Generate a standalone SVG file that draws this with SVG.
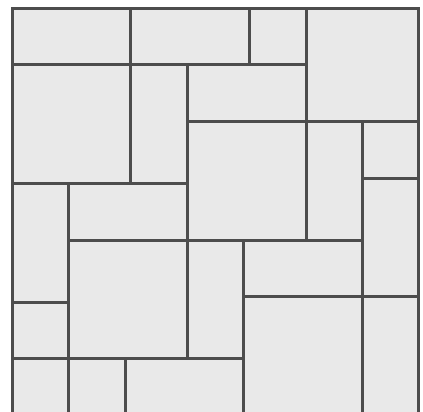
<svg xmlns="http://www.w3.org/2000/svg" width="423" height="412" viewBox="0 0 423 412">
<style>
.t{fill:#e9e9e9;stroke:#4d4d4d;stroke-width:3}
</style>
<rect width="423" height="412" fill="#ffffff"/>
<g id="tiles">
<rect id="r1" class="t" x="12.5" y="8.5" width="118" height="56"/>
<rect id="r2" class="t" x="130.5" y="8.5" width="119" height="56"/>
<rect id="r3" class="t" x="249.5" y="8.5" width="57" height="56"/>
<rect id="r4" class="t" x="306.5" y="8.5" width="112" height="113"/>
<rect id="r5" class="t" x="12.5" y="64.5" width="118" height="119"/>
<rect id="r6" class="t" x="130.5" y="64.5" width="57" height="119"/>
<rect id="r7" class="t" x="187.5" y="64.5" width="119" height="57"/>
<rect id="r8" class="t" x="187.5" y="121.5" width="119" height="119"/>
<rect id="r9" class="t" x="306.5" y="121.5" width="56" height="119"/>
<rect id="r10" class="t" x="362.5" y="121.5" width="56" height="57"/>
<rect id="r11" class="t" x="362.5" y="178.5" width="56" height="118"/>
<rect id="r12" class="t" x="12.5" y="183.5" width="56" height="119"/>
<rect id="r13" class="t" x="68.5" y="183.5" width="119" height="57"/>
<rect id="r14" class="t" x="68.5" y="240.5" width="119" height="118"/>
<rect id="r15" class="t" x="187.5" y="240.5" width="56" height="118"/>
<rect id="r16" class="t" x="243.5" y="240.5" width="119" height="56"/>
<rect id="r17" class="t" x="243.5" y="296.5" width="119" height="120"/>
<rect id="r18" class="t" x="362.5" y="296.5" width="56" height="120"/>
<rect id="r19" class="t" x="12.5" y="302.5" width="56" height="56"/>
<rect id="r20" class="t" x="12.5" y="358.5" width="56" height="58"/>
<rect id="r21" class="t" x="68.5" y="358.5" width="57" height="58"/>
<rect id="r22" class="t" x="125.5" y="358.5" width="118" height="58"/>
</g>
</svg>
